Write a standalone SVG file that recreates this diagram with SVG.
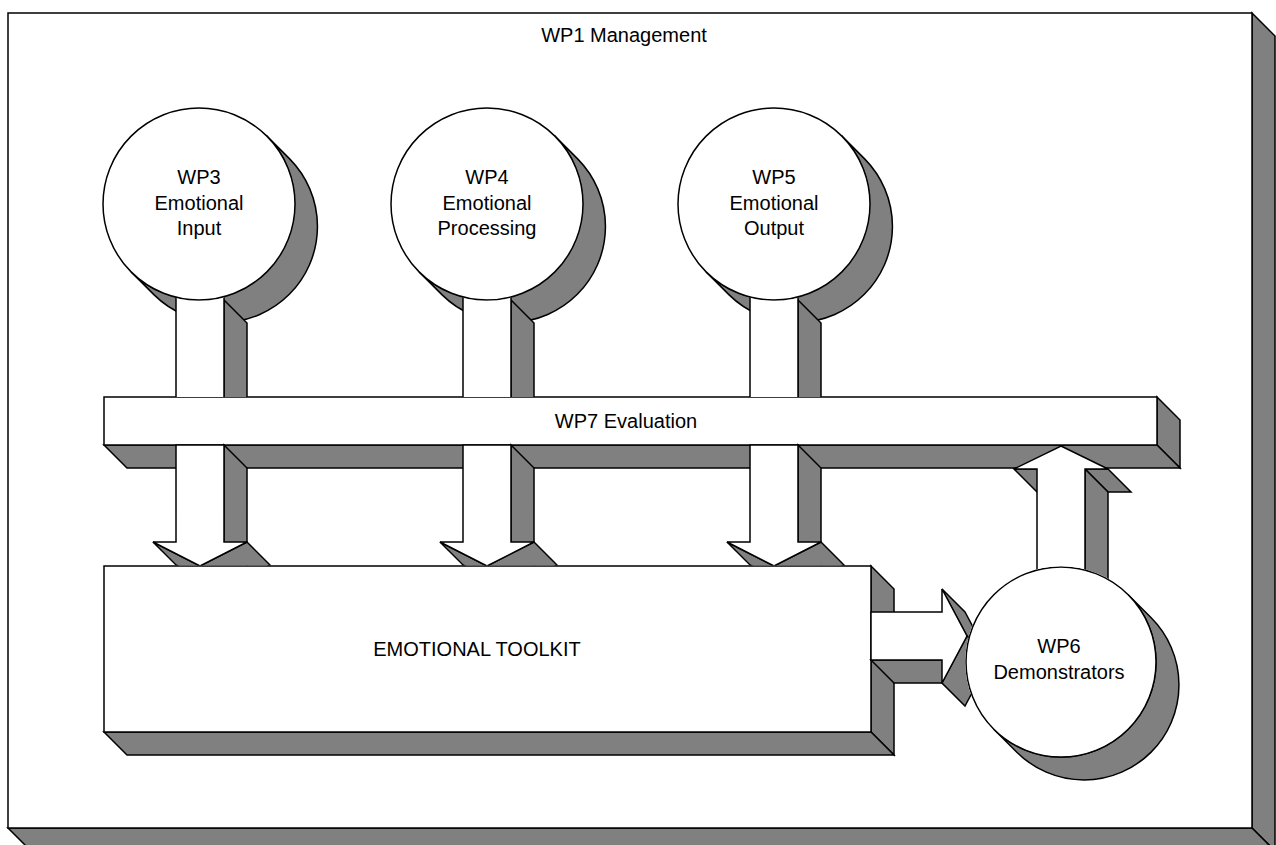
<svg xmlns="http://www.w3.org/2000/svg" width="1276" height="845" viewBox="0 0 1276 845">
<style>
.s{fill:#808080;stroke:#000;stroke-width:1.5;stroke-linejoin:miter}
.f{fill:#fff;stroke:#000;stroke-width:1.5;stroke-linejoin:miter}
.t{font-family:"Liberation Sans",Arial,sans-serif;font-size:20px;fill:#000;text-anchor:middle}
</style>
<defs>
<clipPath id="cu3"><path clip-rule="evenodd" d="M0 0H1276V397H0Z M102.2 204a96.8 96.8 0 1 0 193.6 0a96.8 96.8 0 1 0 -193.6 0Z"/></clipPath>
<clipPath id="cu4"><path clip-rule="evenodd" d="M0 0H1276V397H0Z M390.2 204a96.8 96.8 0 1 0 193.6 0a96.8 96.8 0 1 0 -193.6 0Z"/></clipPath>
<clipPath id="cu5"><path clip-rule="evenodd" d="M0 0H1276V397H0Z M677.2 204a96.8 96.8 0 1 0 193.6 0a96.8 96.8 0 1 0 -193.6 0Z"/></clipPath>
<clipPath id="cdn"><path d="M0 0H1276V565.6H0Z"/></clipPath>
<clipPath id="c6"><path clip-rule="evenodd" d="M0 0H1276V845H0Z M965.2 662a95.8 95.8 0 1 0 191.6 0a95.8 95.8 0 1 0 -191.6 0Z"/></clipPath>
</defs>

<g id="wp1">
<polygon class="s" points="1252,13 1275,36 1275,851 1252,828"/>
<polygon class="s" points="8,828 1252,828 1275,851 31,851"/>
<rect class="f" x="8" y="13" width="1244" height="815"/>
<text class="t" x="624" y="42">WP1 Management</text>
</g>

<g id="wp3">
<path class="s" d="M266.88 136.12L289.88 159.12A96 96 0 0 1 154.12 294.88L131.12 271.88A96 96 0 0 0 266.88 136.12Z"/>
<circle class="f" cx="199" cy="204" r="96"/>
<text class="t" x="199" y="184">WP3</text>
<text class="t" x="199" y="210">Emotional</text>
<text class="t" x="199" y="235">Input</text>
</g>

<g id="wp4">
<path class="s" d="M554.88 136.12L577.88 159.12A96 96 0 0 1 442.12 294.88L419.12 271.88A96 96 0 0 0 554.88 136.12Z"/>
<circle class="f" cx="487" cy="204" r="96"/>
<text class="t" x="487" y="184">WP4</text>
<text class="t" x="487" y="210">Emotional</text>
<text class="t" x="487" y="235">Processing</text>
</g>

<g id="wp5">
<path class="s" d="M841.88 136.12L864.88 159.12A96 96 0 0 1 729.12 294.88L706.12 271.88A96 96 0 0 0 841.88 136.12Z"/>
<circle class="f" cx="774" cy="204" r="96"/>
<text class="t" x="774" y="184">WP5</text>
<text class="t" x="774" y="210">Emotional</text>
<text class="t" x="774" y="235">Output</text>
</g>

<g id="wp7">
<polygon class="s" points="1157,397 1180,420 1180,468 1157,445"/>
<polygon class="s" points="104,445 1157,445 1180,468 127,468"/>
<rect class="f" x="104" y="397" width="1053" height="48"/>
<text class="t" x="626" y="428">WP7 Evaluation</text>
</g>

<g id="toolkit">
<polygon class="s" points="871,566 894,589 894,755 871,732"/>
<polygon class="s" points="104,732 871,732 894,755 127,755"/>
<rect class="f" x="104" y="566" width="767" height="166"/>
<text class="t" x="477" y="656">EMOTIONAL TOOLKIT</text>
</g>

<g id="wp6">
<path class="s" d="M1128.18 594.82L1151.18 617.82A95 95 0 0 1 1016.82 752.18L993.82 729.18A95 95 0 0 0 1128.18 594.82Z"/>
<circle class="f" cx="1061" cy="662" r="95"/>
<text class="t" x="1059" y="653">WP6</text>
<text class="t" x="1059" y="679">Demonstrators</text>
</g>

<g id="connectors">
<g clip-path="url(#cu3)">
<polygon class="s" points="224,300 247,323 247,443 224,420"/>
<rect class="f" x="176" y="290" width="48" height="130"/>
</g>
<g clip-path="url(#cu4)">
<polygon class="s" points="511,300 534,323 534,443 511,420"/>
<rect class="f" x="463" y="290" width="48" height="130"/>
</g>
<g clip-path="url(#cu5)">
<polygon class="s" points="798,300 821,323 821,443 798,420"/>
<rect class="f" x="750" y="290" width="48" height="130"/>
</g>
<g clip-path="url(#cdn)">
<polygon class="s" points="224,445 247,468 247,565 224,542"/>
<polygon class="s" points="247,542 270,565 223,589 200,566"/>
<polygon class="s" points="200,566 223,589 176,565 153,542"/>
<polygon class="f" points="176,445 224,445 224,542 247,542 200,566 153,542 176,542"/>
<polygon class="s" points="511,445 534,468 534,565 511,542"/>
<polygon class="s" points="534,542 557,565 510,589 487,566"/>
<polygon class="s" points="487,566 510,589 463,565 440,542"/>
<polygon class="f" points="463,445 511,445 511,542 534,542 487,566 440,542 463,542"/>
<polygon class="s" points="798,445 821,468 821,565 798,542"/>
<polygon class="s" points="821,542 844,565 797,589 774,566"/>
<polygon class="s" points="774,566 797,589 750,565 727,542"/>
<polygon class="f" points="750,445 798,445 798,542 821,542 774,566 727,542 750,542"/>
</g>
<g clip-path="url(#c6)">
<polygon class="s" points="1085,469 1108,469 1131,492 1108,492"/>
<polygon class="s" points="1085,469 1108,492 1108,613 1085,590"/>
<polygon class="s" points="1014,469 1037,469 1060,492 1037,492"/>
<polygon class="f" points="1061,446 1108,469 1085,469 1085,590 1037,590 1037,469 1014,469"/>
<polygon class="s" points="871,660 942,660 965,683 894,683"/>
<polygon class="s" points="942,589 967,636 990,659 965,612"/>
<polygon class="s" points="967,636 942,683 965,706 990,659"/>
<polygon class="f" points="871,612 942,612 942,589 967,636 942,683 942,660 871,660"/>
</g>
</g>
</svg>
